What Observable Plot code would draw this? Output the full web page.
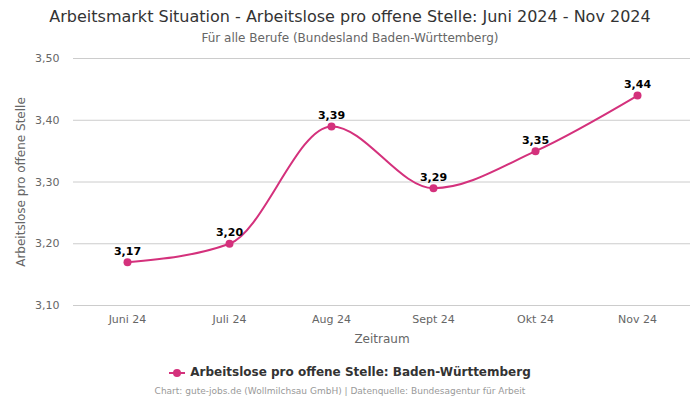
<!DOCTYPE html>
<html><head><meta charset="utf-8">
<script src="https://cdn.jsdelivr.net/npm/d3@7"></script>
<script src="https://cdn.jsdelivr.net/npm/@observablehq/plot@0.6"></script>
<style>
body{margin:0;width:700px;height:400px;background:#fff;font-family:"DejaVu Sans",sans-serif;overflow:hidden;position:relative}
#title{position:absolute;top:7px;left:0;width:700px;text-align:center;font-size:16px;color:#333}
#sub{position:absolute;top:31px;left:0;width:700px;text-align:center;font-size:12px;color:#666}
#chart{position:absolute;top:45px;left:0}
#legend{position:absolute;top:365px;left:0;width:700px;text-align:center;font-size:12px;font-weight:bold;color:#333}
#legend svg{vertical-align:middle;margin-right:5px}
#cap{position:absolute;top:386px;left:-10px;width:700px;text-align:center;font-size:9px;color:#999}
</style></head>
<body>
<div id="title">Arbeitsmarkt Situation - Arbeitslose pro offene Stelle: Juni 2024 - Nov 2024</div>
<div id="sub">Für alle Berufe (Bundesland Baden-Württemberg)</div>
<div id="chart"></div>
<div id="legend"><svg width="16" height="10"><line x1="0" y1="5" x2="16" y2="5" stroke="#d4317c" stroke-width="2"/><circle cx="8" cy="5" r="4" fill="#d4317c"/></svg>Arbeitslose pro offene Stelle: Baden-Württemberg</div>
<div id="cap">Chart: gute-jobs.de (Wollmilchsau GmbH) | Datenquelle: Bundesagentur für Arbeit</div>
<script>
const months = ["Juni 24","Juli 24","Aug 24","Sept 24","Okt 24","Nov 24"];
const values = [3.17, 3.20, 3.39, 3.29, 3.35, 3.44];
const yTicks = [3.10, 3.20, 3.30, 3.40, 3.50];

const data = months.map((m, i) => ({month: m, value: values[i]}));
const fmt = v => v.toFixed(2).replace(".", ",");
const color = "#d4317c";

const chart = Plot.plot({
  width: 700,
  height: 310,
  marginTop: 13,
  marginBottom: 50,
  marginLeft: 73,
  marginRight: 10,
  style: {fontFamily: "DejaVu Sans, sans-serif", fontSize: "11px", color: "#666", background: "transparent"},
  x: {type: "point", domain: months, padding: 0.5},
  y: {domain: [3.10, 3.50]},
  marks: [
    Plot.gridY(yTicks, {stroke: "#ccc", strokeOpacity: 1}),
    Plot.axisY({ticks: yTicks, tickFormat: fmt, tickSize: 0, tickPadding: 14, label: "Arbeitslose pro offene Stelle", labelAnchor: "center", labelArrow: "none", labelOffset: 57, fontSize: 11}),
    Plot.axisX({tickSize: 0, tickPadding: 10, label: "Zeitraum", labelAnchor: "center", labelArrow: "none", labelOffset: 37, fontSize: 11}),
    Plot.line(data, {x: "month", y: "value", stroke: color, strokeWidth: 2, curve: "monotone-x"}),
    Plot.dot(data, {x: "month", y: "value", fill: color, r: 4}),
    Plot.text(data, {x: "month", y: "value", text: d => fmt(d.value), dy: -11, fontWeight: "bold", fill: "#000", fontSize: 11})
  ]
});
chart.querySelectorAll("[aria-label='y-axis label'] text, [aria-label='x-axis label'] text").forEach(t => t.setAttribute("font-size", "12"));
document.getElementById("chart").appendChild(chart);
</script>
</body></html>
